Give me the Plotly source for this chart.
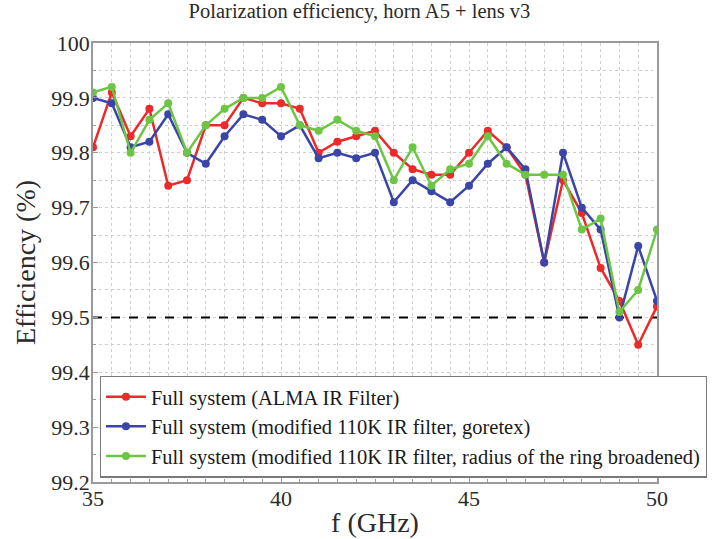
import plotly.graph_objects as go

freq = [35.0, 35.5, 36.0, 36.5, 37.0, 37.5, 38.0, 38.5, 39.0, 39.5, 40.0,
        40.5, 41.0, 41.5, 42.0, 42.5, 43.0, 43.5, 44.0, 44.5, 45.0,
        45.5, 46.0, 46.5, 47.0, 47.5, 48.0, 48.5, 49.0, 49.5, 50.0]

alma_ir = [99.81, 99.91, 99.83, 99.88, 99.74, 99.75, 99.85, 99.85, 99.90, 99.89, 99.89,
           99.88, 99.80, 99.82, 99.83, 99.84, 99.80, 99.77, 99.76, 99.76, 99.80,
           99.84, 99.81, 99.76, 99.60, 99.75, 99.69, 99.59, 99.53, 99.45, 99.52]

goretex = [99.90, 99.89, 99.81, 99.82, 99.87, 99.80, 99.78, 99.83, 99.87, 99.86, 99.83,
           99.85, 99.79, 99.80, 99.79, 99.80, 99.71, 99.75, 99.73, 99.71, 99.74,
           99.78, 99.81, 99.77, 99.60, 99.80, 99.70, 99.66, 99.50, 99.63, 99.53]

ring_broadened = [99.91, 99.92, 99.80, 99.86, 99.89, 99.80, 99.85, 99.88, 99.90, 99.90, 99.92,
                  99.85, 99.84, 99.86, 99.84, 99.83, 99.75, 99.81, 99.74, 99.77, 99.78,
                  99.83, 99.78, 99.76, 99.76, 99.76, 99.66, 99.68, 99.51, 99.55, 99.66]

names = ["Full system (ALMA IR Filter)",
         "Full system (modified 110K IR filter, goretex)",
         "Full system (modified 110K IR filter, radius of the ring broadened)"]
colors = ["#ec2a2a", "#3a45a8", "#6cc644"]

threshold = 99.5

x_ticks = [35, 40, 45, 50]
y_ticks = [99.2, 99.3, 99.4, 99.5, 99.6, 99.7, 99.8, 99.9, 100]
y_labels = ["99.2", "99.3", "99.4", "99.5", "99.6", "99.7", "99.8", "99.9", "100"]

serif = "Liberation Serif"

fig = go.Figure()

# requirement level
fig.add_trace(go.Scatter(
    x=[freq[0], freq[-1]], y=[threshold, threshold], mode="lines",
    line=dict(color="black", width=2, dash="dash"),
    showlegend=False, hoverinfo="skip"))

for series, name, color in zip([alma_ir, goretex, ring_broadened], names, colors):
    fig.add_trace(go.Scatter(
        x=freq, y=series, mode="lines+markers", name=name,
        line=dict(color=color, width=2.5),
        marker=dict(color=color, size=8)))

axis_common = dict(
    showline=True, linecolor="#9a9a9a", linewidth=1.5, mirror=True,
    ticks="inside", ticklen=5, tickcolor="#9a9a9a",
    showgrid=True, gridcolor="#cfcfcf", griddash="dot", gridwidth=1,
    zeroline=False,
    tickfont=dict(family=serif, size=22, color="#2a2a2a"),
)

fig.update_xaxes(
    range=[35, 50], tickvals=x_ticks, ticklabelstandoff=-4,
    minor=dict(dtick=0.5, showgrid=True, gridcolor="#cfcfcf", griddash="dot",
               ticks="inside", ticklen=3, tickcolor="#9a9a9a"),
    title=dict(text="f (GHz)", font=dict(family=serif, size=28, color="#2a2a2a"), standoff=2),
    **axis_common)

fig.update_yaxes(
    range=[99.2, 100], tickvals=y_ticks, ticktext=y_labels, ticklabelstandoff=-3,
    minor=dict(dtick=0.05, showgrid=True, gridcolor="#cfcfcf", griddash="dot",
               ticks="inside", ticklen=3, tickcolor="#9a9a9a"),
    title=dict(text="Efficiency (%)", font=dict(family=serif, size=28, color="#2a2a2a"), standoff=8),
    **axis_common)

fig.update_layout(
    width=719, height=539,
    margin=dict(l=93, r=62, t=43, b=57, autoexpand=False),
    paper_bgcolor="white", plot_bgcolor="white",
    title=dict(text="Polarization efficiency, horn A5 + lens v3",
               font=dict(family=serif, size=20.5, color="#2a2a2a"),
               x=0.5, xanchor="center", y=0.993, yanchor="top"),
    legend=dict(
        x=0.012, y=0.01, xanchor="left", yanchor="bottom",
        bgcolor="white", bordercolor="#7a7a7a", borderwidth=1.2,
        font=dict(family=serif, size=20.5, color="#1a1a1a"),
        tracegroupgap=0, itemwidth=40),
    showlegend=True,
)

fig.write_html("out.html")
